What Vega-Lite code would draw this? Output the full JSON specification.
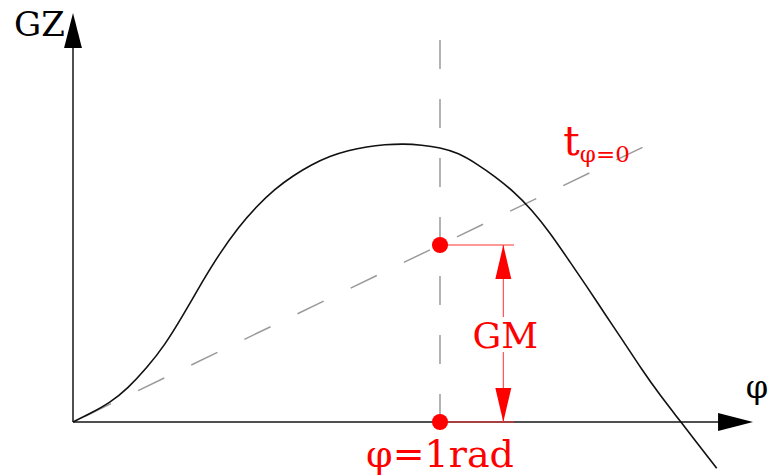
{
  "$schema": "https://vega.github.io/schema/vega-lite/v6.json",
  "width": 775,
  "height": 476,
  "autosize": {"type": "fit", "contains": "padding"},
  "padding": 0,
  "background": "white",
  "config": {"view": {"stroke": null}},
  "encoding": {
    "x": {"field": "x", "type": "quantitative", "axis": null,
          "scale": {"domain": [-0.19891, 1.91281], "nice": false, "zero": false}},
    "y": {"field": "y", "type": "quantitative", "axis": null,
          "scale": {"domain": [-0.30508, 2.38418], "nice": false, "zero": false}}
  },
  "layer": [
    {
      "description": "vertical guide at phi = 1 rad",
      "data": {"values": [{"x": 1, "y": 2.158, "x2": 1, "y2": 0}]},
      "mark": {"type": "rule", "color": "#9a9a9a", "strokeWidth": 1.5, "strokeDash": [29, 30]},
      "encoding": {"x2": {"field": "x2"}, "y2": {"field": "y2"}}
    },
    {
      "description": "initial tangent GZ = GM * phi",
      "data": {"values": [{"x": 0, "y": 0, "x2": 1.5777, "y2": 1.5777}]},
      "mark": {"type": "rule", "color": "#9a9a9a", "strokeWidth": 1.5, "strokeDash": [29, 30], "strokeDashOffset": 45.7},
      "encoding": {"x2": {"field": "x2"}, "y2": {"field": "y2"}}
    },
    {
      "description": "coordinate axes",
      "data": {"values": [
        {"x": 0, "y": 0, "x2": 0, "y2": 2.13},
        {"x": 0, "y": 0, "x2": 1.77, "y2": 0}
      ]},
      "mark": {"type": "rule", "color": "#505050", "strokeWidth": 2},
      "encoding": {"x2": {"field": "x2"}, "y2": {"field": "y2"}}
    },
    {
      "description": "righting arm curve",
      "data": {"values": [
        {"x": 0.0, "y": 0.0},
        {"x": 0.05, "y": 0.052},
        {"x": 0.1, "y": 0.112},
        {"x": 0.15, "y": 0.196},
        {"x": 0.2, "y": 0.306},
        {"x": 0.25, "y": 0.44},
        {"x": 0.3, "y": 0.605},
        {"x": 0.35, "y": 0.783},
        {"x": 0.4, "y": 0.95},
        {"x": 0.45, "y": 1.095},
        {"x": 0.5, "y": 1.215},
        {"x": 0.55, "y": 1.313},
        {"x": 0.6, "y": 1.39},
        {"x": 0.65, "y": 1.452},
        {"x": 0.7, "y": 1.5},
        {"x": 0.75, "y": 1.533},
        {"x": 0.8, "y": 1.554},
        {"x": 0.85, "y": 1.566},
        {"x": 0.9, "y": 1.57},
        {"x": 0.95, "y": 1.564},
        {"x": 1.0, "y": 1.548},
        {"x": 1.05, "y": 1.515},
        {"x": 1.1, "y": 1.457},
        {"x": 1.15, "y": 1.385},
        {"x": 1.2, "y": 1.3},
        {"x": 1.25, "y": 1.195},
        {"x": 1.3, "y": 1.065},
        {"x": 1.35, "y": 0.917},
        {"x": 1.4, "y": 0.765},
        {"x": 1.45, "y": 0.609},
        {"x": 1.5, "y": 0.454},
        {"x": 1.55, "y": 0.298},
        {"x": 1.6, "y": 0.152},
        {"x": 1.65, "y": 0.017},
        {"x": 1.7, "y": -0.117},
        {"x": 1.754, "y": -0.2616}
      ]},
      "mark": {"type": "line", "color": "#111111", "strokeWidth": 1.6, "interpolate": "natural"}
    },
    {
      "description": "GM extension lines",
      "data": {"values": [
        {"x": 1, "y": 1, "x2": 1.2016, "y2": 1},
        {"x": 1, "y": 0, "x2": 1.2016, "y2": 0},
        {"x": 1.1725, "y": 1, "x2": 1.1725, "y2": 0.593},
        {"x": 1.1725, "y": 0.395, "x2": 1.1725, "y2": 0}
      ]},
      "mark": {"type": "rule", "color": "#ff3030", "strokeWidth": 1},
      "encoding": {"x2": {"field": "x2"}, "y2": {"field": "y2"}}
    },
    {
      "data": {"values": [{"x": 1.1725, "y": 1}]},
      "mark": {"type": "point", "shape": "M0,0L0.47,2L-0.47,2Z", "size": 1156, "filled": true, "fill": "#ff0000", "strokeWidth": 0, "opacity": 1}
    },
    {
      "data": {"values": [{"x": 1.1725, "y": 0}]},
      "mark": {"type": "point", "shape": "M0,0L0.47,-2L-0.47,-2Z", "size": 1156, "filled": true, "fill": "#ff0000", "strokeWidth": 0, "opacity": 1}
    },
    {
      "description": "axis arrowheads",
      "data": {"values": [{"x": 0, "y": 2.3107}]},
      "mark": {"type": "point", "shape": "M0,0L0.51,2L-0.51,2Z", "size": 1225, "filled": true, "fill": "#000000", "strokeWidth": 0, "opacity": 1}
    },
    {
      "data": {"values": [{"x": 1.853, "y": 0}]},
      "mark": {"type": "point", "shape": "M0,0L-2,-0.51L-2,0.51Z", "size": 1225, "filled": true, "fill": "#000000", "strokeWidth": 0, "opacity": 1}
    },
    {
      "description": "points at phi = 1 rad",
      "data": {"values": [{"x": 1, "y": 1}, {"x": 1, "y": 0}]},
      "mark": {"type": "point", "shape": "circle", "size": 260, "filled": true, "fill": "#ff0000", "strokeWidth": 0, "opacity": 1}
    },
    {
      "data": {"values": [{"x": -0.0913, "y": 2.181, "label": "GZ"}]},
      "mark": {"type": "text", "font": "DejaVu Serif", "fontSize": 34, "color": "#000000", "align": "center", "baseline": "alphabetic"},
      "encoding": {"text": {"field": "label"}}
    },
    {
      "data": {"values": [{"x": 1.8638, "y": 0.1356, "label": "φ"}]},
      "mark": {"type": "text", "font": "DejaVu Serif", "fontSize": 32, "color": "#000000", "align": "center", "baseline": "alphabetic"},
      "encoding": {"text": {"field": "label"}}
    },
    {
      "data": {"values": [{"x": 1.0, "y": -0.2525, "label": "φ=1rad"}]},
      "mark": {"type": "text", "font": "DejaVu Serif", "fontSize": 38, "color": "#ff0000", "align": "center", "baseline": "alphabetic"},
      "encoding": {"text": {"field": "label"}}
    },
    {
      "data": {"values": [{"x": 1.178, "y": 0.418, "label": "GM"}]},
      "mark": {"type": "text", "font": "DejaVu Serif", "fontSize": 36, "color": "#ff0000", "align": "center", "baseline": "alphabetic"},
      "encoding": {"text": {"field": "label"}}
    },
    {
      "data": {"values": [{"x": 1.336, "y": 1.508, "label": "t"}]},
      "mark": {"type": "text", "font": "DejaVu Serif", "fontSize": 41, "color": "#ff0000", "align": "left", "baseline": "alphabetic"},
      "encoding": {"text": {"field": "label"}}
    },
    {
      "data": {"values": [{"x": 1.381, "y": 1.469, "label": "φ=0"}]},
      "mark": {"type": "text", "font": "DejaVu Serif", "fontSize": 23, "color": "#ff0000", "align": "left", "baseline": "alphabetic"},
      "encoding": {"text": {"field": "label"}}
    }
  ]
}
